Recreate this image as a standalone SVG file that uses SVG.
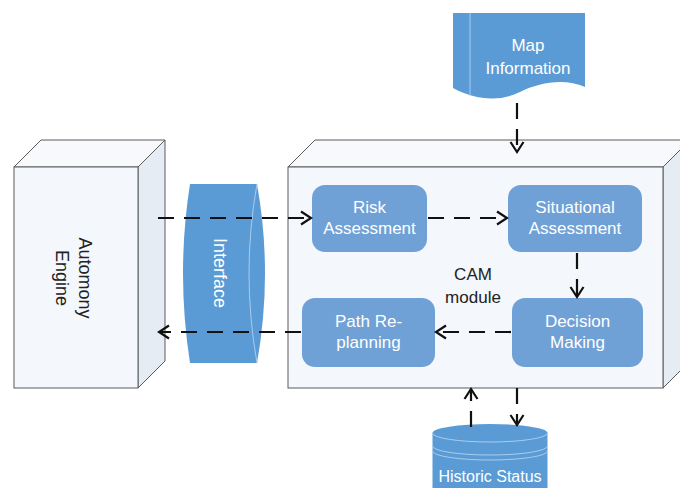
<svg xmlns="http://www.w3.org/2000/svg" width="680" height="488" viewBox="0 0 680 488">
<defs>
<style>
.front{fill:#F4F7FB;stroke:#5A5A5A;stroke-width:1}
.top{fill:#F7F9FC;stroke:#5A5A5A;stroke-width:1}
.side{fill:#E6ECF3;stroke:#5A5A5A;stroke-width:1}
.proc{fill:#6FA1D6}
.blue{fill:#5B9BD5}
.wt{fill:#FFFFFF;font-family:"Liberation Sans",Arial,sans-serif;font-size:17px;text-anchor:middle}
.bk{fill:#222222;font-family:"Liberation Sans",Arial,sans-serif;font-size:17px;text-anchor:middle}
.hl{fill:none;stroke:#A9CBEC;stroke-width:1}
.conn{fill:none;stroke:#111111;stroke-width:2.2;stroke-dasharray:16 10}
</style>
<marker id="arr" markerUnits="userSpaceOnUse" markerWidth="14" markerHeight="16" viewBox="-1 -8 13 16" refX="10" refY="0" orient="auto">
<path d="M0,-6.5 L10,0 L0,6.5" fill="none" stroke="#111111" stroke-width="2.2"/>
</marker>
</defs>

<g id="automony-engine">
<polygon class="top" points="14,167 41,140 165,140 138,167"/>
<polygon class="side" points="138,167 165,140 165,361 138,388"/>
<rect class="front" x="14" y="167" width="124" height="221"/>
<text class="bk" transform="translate(68,278) rotate(90)" style="font-size:18px"><tspan x="0" y="-10.5">Automony</tspan><tspan x="0" y="12.5">Engine</tspan></text>
</g>

<g id="cam-module">
<polygon class="top" points="288,167 315,140 690,140 663,167"/>
<polygon class="side" points="663,167 690,140 690,361 663,388"/>
<rect class="front" x="288" y="167" width="375" height="221"/>
<text class="bk" x="473" y="280">CAM</text>
<text class="bk" x="473" y="303">module</text>
</g>

<g id="interface">
<path class="blue" d="M190,184 L257,184 Q273,273 257,363 L190,363 Q176,273 190,184 Z"/>
<path class="hl" d="M257,184 Q241,273 257,363"/>
<text class="wt" transform="translate(213.5,273) rotate(90)" style="font-size:18px">Interface</text>
</g>

<g id="map-information">
<path class="blue" d="M453,13 L585,13 L585,87 C565,78 540,82 520,92 C500,102 475,100 453,88 Z"/>
<line class="hl" x1="470" y1="13" x2="470" y2="96"/>
<text class="wt" x="528" y="51">Map</text>
<text class="wt" x="528" y="74">Information</text>
</g>

<g id="historic-status">
<path class="blue" d="M432.5,433 L432.5,500 L547.5,500 L547.5,433 Z"/>
<ellipse class="blue" cx="490" cy="433" rx="57.5" ry="9"/>
<path class="hl" d="M432.5,433 A57.5,9 0 0 0 547.5,433"/>
<path class="hl" d="M432.5,446 A57.5,9 0 0 0 547.5,446"/>
<path class="hl" d="M432.5,451 A57.5,9 0 0 0 547.5,451"/>
<text class="wt" x="490" y="482" style="font-size:16px">Historic Status</text>
</g>

<g id="risk-assessment">
<rect class="proc" x="312" y="185" width="115" height="67" rx="13"/>
<text class="wt" x="369.5" y="213">Risk</text>
<text class="wt" x="369.5" y="234">Assessment</text>
</g>

<g id="situational-assessment">
<rect class="proc" x="508" y="185" width="134" height="67" rx="13"/>
<text class="wt" x="575" y="213">Situational</text>
<text class="wt" x="575" y="234">Assessment</text>
</g>

<g id="path-replanning">
<rect class="proc" x="302" y="298" width="133" height="69" rx="13"/>
<text class="wt" x="368.5" y="327">Path Re-</text>
<text class="wt" x="368.5" y="348">planning</text>
</g>

<g id="decision-making">
<rect class="proc" x="512" y="298" width="131" height="69" rx="13"/>
<text class="wt" x="577.5" y="327">Decision</text>
<text class="wt" x="577.5" y="348">Making</text>
</g>

<g id="connectors">
<line class="conn" x1="158" y1="218" x2="311" y2="218" marker-end="url(#arr)"/>
<line class="conn" x1="428" y1="218" x2="507" y2="218" marker-end="url(#arr)"/>
<line class="conn" x1="577" y1="253" x2="577" y2="297" marker-end="url(#arr)"/>
<line class="conn" x1="511" y1="332" x2="436" y2="332" marker-end="url(#arr)"/>
<line class="conn" x1="301" y1="332" x2="159" y2="332" marker-end="url(#arr)"/>
<line class="conn" x1="517" y1="103" x2="517" y2="152" marker-end="url(#arr)"/>
<line class="conn" x1="471" y1="427" x2="471" y2="389" marker-end="url(#arr)"/>
<line class="conn" x1="517" y1="388" x2="517" y2="425" marker-end="url(#arr)"/>
</g>
</svg>
